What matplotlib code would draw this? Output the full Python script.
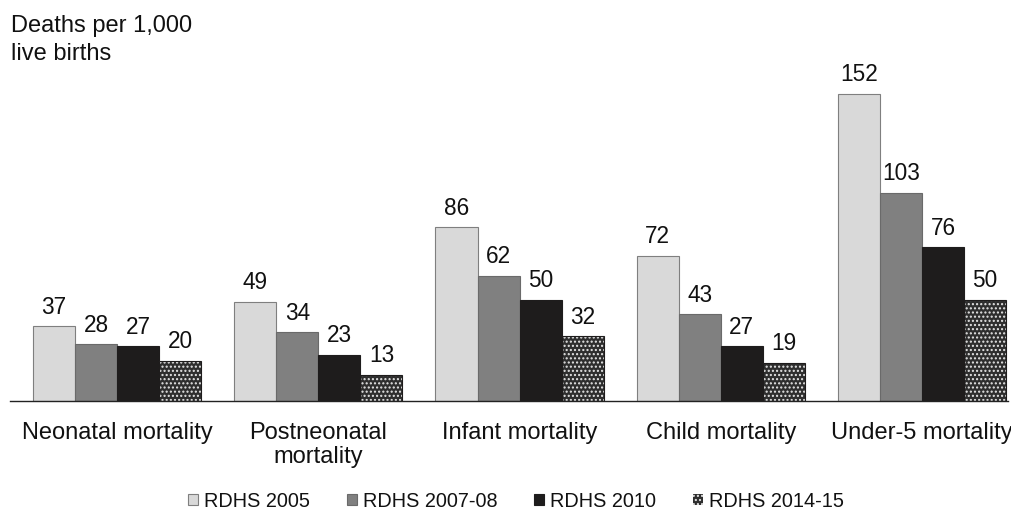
import matplotlib
matplotlib.use("Agg")
import matplotlib.pyplot as plt
import numpy as np
from matplotlib.patches import Patch

plt.rcParams['font.family'] = ['Liberation Sans', 'DejaVu Sans']

categories = ["Neonatal mortality", "Postneonatal\nmortality", "Infant mortality",
              "Child mortality", "Under-5 mortality"]
series_names = ["RDHS 2005", "RDHS 2007-08", "RDHS 2010", "RDHS 2014-15"]
rdhs_2005 = [37, 49, 86, 72, 152]
rdhs_2007 = [28, 34, 62, 43, 103]
rdhs_2010 = [27, 23, 50, 27, 76]
rdhs_2014 = [20, 13, 32, 19, 50]
series = [rdhs_2005, rdhs_2007, rdhs_2010, rdhs_2014]

W, H = 1012, 511
fig = plt.figure(figsize=(W / 100, H / 100), dpi=100)
left_px, right_px, top_px, base_px = 10, 1008, 60, 401
ax = fig.add_axes([left_px / W, 1 - base_px / H, (right_px - left_px) / W, (base_px - top_px) / H])

x = np.arange(len(categories))
bw = 0.209
offsets = (np.arange(4) - 1.5) * bw
face = ['#d9d9d9', '#808080', '#1e1c1c', '#2e2e2e']
edge = ['#7f7f7f', '#6a6a6a', '#1e1c1c', '#1e1c1c']

for i, vals in enumerate(series):
    pos = x + offsets[i]
    if i == 3:
        ax.bar(pos, vals, bw, color=face[i], edgecolor='#e6e6e6', hatch='....', linewidth=0)
        ax.bar(pos, vals, bw, fill=False, edgecolor=edge[i], linewidth=0.8)
    else:
        ax.bar(pos, vals, bw, color=face[i], edgecolor=edge[i], linewidth=0.8)
    for p, v in zip(pos, vals):
        ax.annotate(str(v), (p, v), xytext=(0, 5.5), textcoords='offset points',
                    ha='center', va='bottom', fontsize=16.3, color='#111111')

ax.set_xlim(-0.532, 4.427)
ax.set_ylim(0, (base_px - top_px) / 2.02)
ax.set_xticks(x)
ax.set_xticklabels(categories, fontsize=17, color='#111111', linespacing=1.15)
ax.tick_params(axis='x', length=0, pad=15)
ax.set_yticks([])
for s in ['left', 'right', 'top']:
    ax.spines[s].set_visible(False)
ax.spines['bottom'].set_color('#222222')
ax.spines['bottom'].set_linewidth(1.0)

fig.text(11 / W, 1 - 15 / H, "Deaths per 1,000\nlive births", ha='left', va='top',
         fontsize=17, color='#111111', linespacing=1.33)

handles = []
for i in range(4):
    if i == 3:
        handles.append(Patch(facecolor=face[i], edgecolor='#e6e6e6', hatch='....', linewidth=0))
    else:
        handles.append(Patch(facecolor=face[i], edgecolor=edge[i], linewidth=0.8))
leg = fig.legend(handles, series_names, loc='center', bbox_to_anchor=(516 / W, 1 - 501 / H),
                 ncol=4, frameon=False, fontsize=14.3, handlelength=0.51, handleheight=0.51,
                 handletextpad=0.3, columnspacing=1.85, borderpad=0, borderaxespad=0)
for t in leg.get_texts():
    t.set_color('#111111')

fig.savefig("out.png", dpi=100)
